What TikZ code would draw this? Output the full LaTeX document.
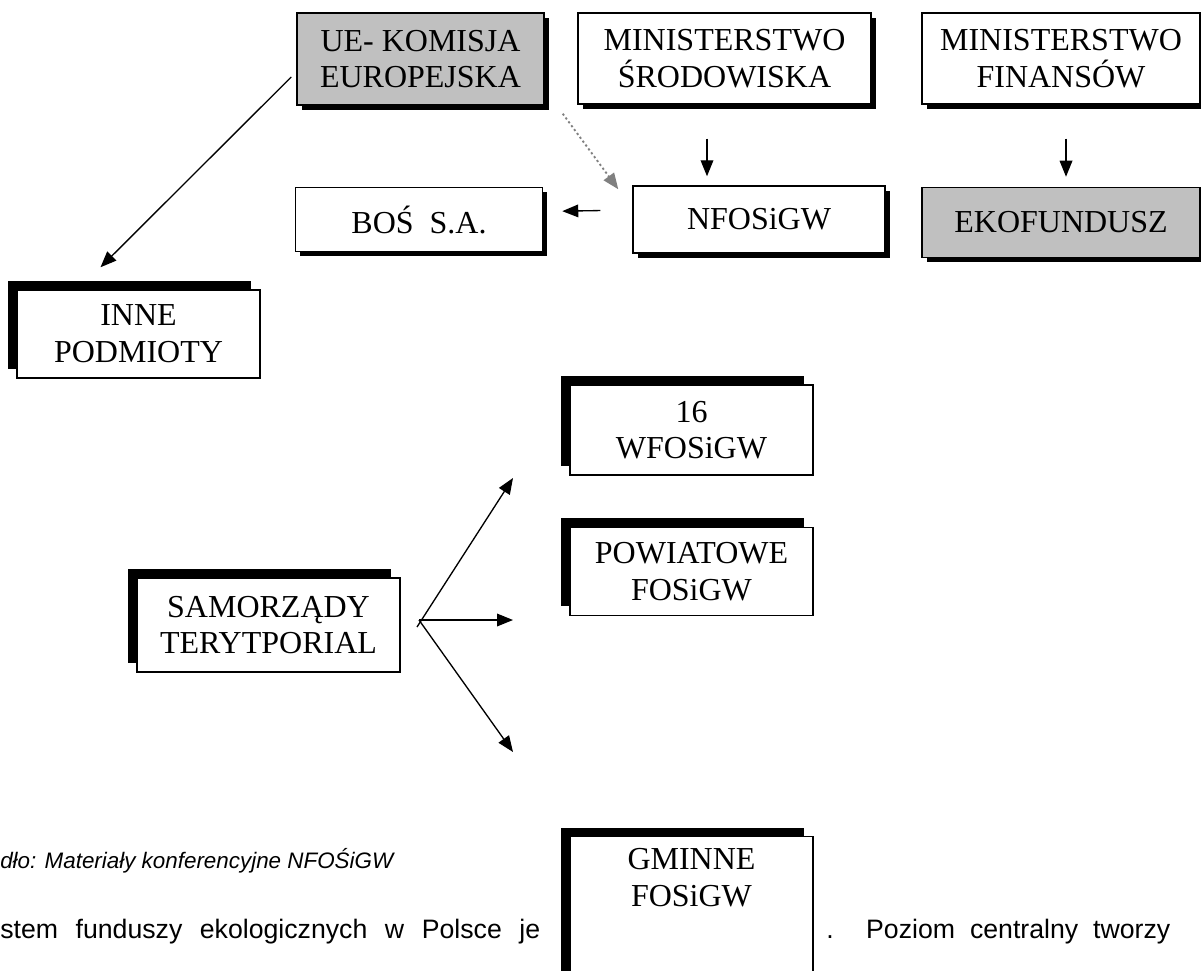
\documentclass[tikz,border=0pt]{standalone}
\usepackage{fontspec}
\setmainfont{Liberation Serif}
\newfontfamily\notefont{Liberation Sans}
\usetikzlibrary{positioning,arrows.meta,shadows,calc}
\definecolor{boxgrey}{RGB}{192,192,192}
\definecolor{dotgrey}{RGB}{128,128,128}

\begin{document}
\begin{tikzpicture}[x=0.75pt,y=-0.75pt,box/.style={draw,rectangle,line width=1.1pt,fill=white,align=center,inner sep=0pt,font=\fontsize{24}{27.5}\selectfont},topbox/.style={box,drop shadow={shadow xshift=3.4pt,shadow yshift=-3.4pt,fill=black,opacity=1}},lowbox/.style={box,minimum width=182.25pt,drop shadow={shadow xshift=-6.75pt,shadow yshift=6.75pt,fill=black,opacity=1}},arrow/.style={draw=black,line width=1pt,-{Triangle[length=12pt,width=9.5pt]}},hint/.style={draw=dotgrey,line width=1.4pt,dash pattern=on 1.6pt off 2pt,-{Triangle[length=12pt,width=9.5pt,fill=dotgrey]}}]
  \useasboundingbox[fill=white] (0,0) rectangle (1201,970);
  \clip (0,0) rectangle (1201,970);

  \node[topbox,fill=boxgrey,minimum width=185.25pt,minimum height=69pt] (ue) at (420.5,59) {UE- KOMISJA\\EUROPEJSKA};
  \node[topbox,minimum width=219.75pt,minimum height=68.25pt] (min_srod) at (724.5,58.5) {MINISTERSTWO\\ŚRODOWISKA};
  \node[topbox,minimum width=208.5pt,minimum height=68.25pt] (min_fin) at (1061,58.5) {MINISTERSTWO\\FINANSÓW};

  \node[topbox,minimum width=189pt,minimum height=50.25pt] (nfos) at (759,219.5) {NFOSiGW};
  \node[topbox,minimum width=185.25pt,minimum height=48pt,left=66.75pt of nfos] (bos) {BOŚ\enspace S.A.};
  \node[topbox,fill=boxgrey,minimum width=208.5pt,minimum height=52.5pt,below=61.5pt of min_fin] (eko) {EKOFUNDUSZ};

  \node[lowbox,minimum height=66pt] (inne) at (138.5,334) {INNE\\PODMIOTY};

  \node[lowbox,minimum height=67.5pt] (wfos) at (691.5,430) {16\\WFOSiGW};
  \node[lowbox,minimum height=66pt,below=38.25pt of wfos] (pow) {POWIATOWE\\FOSiGW};
  \node[lowbox,minimum width=197.25pt,minimum height=70.5pt] (sam) at (268.5,625) {SAMORZĄDY\\TERYTPORIAL};

  \node[anchor=base west,inner sep=0pt,font=\notefont\itshape\fontsize{16.8}{20}\selectfont] (source) at (0,868) {dło: Materiały konferencyjne NFOŚiGW};
  \node[anchor=base west,inner sep=0pt,font=\notefont\fontsize{20}{24}\selectfont] (text_l) at (0,938) {\makebox[405pt][s]{stem funduszy ekologicznych w Polsce je}};
  \node[anchor=base west,inner sep=0pt,font=\notefont\fontsize{20}{24}\selectfont] (text_r) at (826,938) {\makebox[258pt][s]{. Poziom centralny tworzy}};

  \node[lowbox,anchor=north,inner ysep=9pt] (gmin) at (691.5,836) {GMINNE\\FOSiGW\rule[-80pt]{0pt}{0pt}};

  \coordinate (fork) at (419,620);
  \coordinate (up_end) at (513,478);
  \coordinate (right_end) at (513,620);
  \coordinate (down_end) at (513,752);

  \draw[arrow] ($(ue.west)+(-5,18)$) -- ($(inne.north)+(-38,-22)$);
  \draw[hint] ($(ue.south east)+(18,8)$) -- ($(nfos.north west)+(-14,4)$);
  \draw[arrow,shorten <=25.5pt,shorten >=6.75pt] ($(min_srod.south)+(-17.5,0)$) -- ($(nfos.north)+(-52,0)$);
  \draw[arrow,shorten <=25.5pt,shorten >=7.5pt] ($(min_fin.south)+(5,0)$) -- ($(eko.north)+(5,0)$);
  \draw[arrow,shorten <=24pt,shorten >=14.25pt] ($(nfos.west)+(0,-9.5)$) -- ($(bos.east)+(0,-8)$);

  \draw[arrow] ($(fork)+(-2,7)$) -- (up_end);
  \draw[arrow] (fork) -- (right_end);
  \draw[arrow] (fork) -- (down_end);
\end{tikzpicture}
\end{document}
